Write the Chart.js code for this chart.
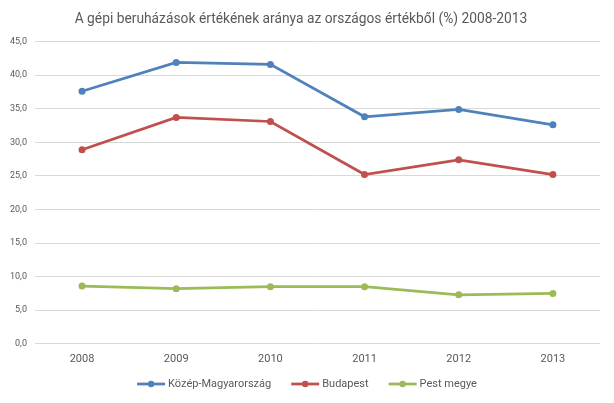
<!DOCTYPE html>
<html lang="hu">
<head>
<meta charset="UTF-8">
<title>Gépi beruházások</title>
<script src="https://cdn.jsdelivr.net/npm/chart.js"></script>
<style>
  body { margin: 0; background: #fff; }
</style>
</head>
<body>
<canvas id="chart" width="614" height="403"></canvas>
<script>
// adatok
const years = ['2008', '2009', '2010', '2011', '2012', '2013'];
const kozepMagyarorszag = [37.6, 41.9, 41.6, 33.8, 34.9, 32.6];
const budapest = [28.9, 33.7, 33.1, 25.2, 27.4, 25.2];
const pestMegye = [8.6, 8.2, 8.5, 8.5, 7.3, 7.5];

const FONT = 'Roboto, "Liberation Sans", sans-serif';

function series(label, data, color) {
    return {
        label: label,
        data: data,
        borderColor: color,
        backgroundColor: color,
        borderWidth: 2.75,
        pointRadius: 3.5,
        pointHoverRadius: 3.5,
        pointBackgroundColor: color,
        pointBorderWidth: 0,
        tension: 0,
        fill: false
    };
}

// Excel-szerű legenda: vonal + pötty, alul középen
const excelLegend = {
    id: 'excelLegend',
    afterDraw(chart) {
        const ctx = chart.ctx;
        const lineLen = 28, textGap = 3, itemGap = 20;
        const y = 384;
        ctx.save();
        ctx.font = '11px ' + FONT;
        ctx.textBaseline = 'middle';
        const items = chart.data.datasets.map(ds => ({
            ds: ds,
            w: lineLen + textGap + ctx.measureText(ds.label).width
        }));
        const total = items.reduce((s, it) => s + it.w, 0) + itemGap * (items.length - 1);
        let x = (chart.width - total) / 2;
        items.forEach(it => {
            ctx.strokeStyle = it.ds.borderColor;
            ctx.lineWidth = 2.75;
            ctx.beginPath();
            ctx.moveTo(x, y);
            ctx.lineTo(x + lineLen, y);
            ctx.stroke();
            ctx.fillStyle = it.ds.borderColor;
            ctx.beginPath();
            ctx.arc(x + lineLen / 2, y, 3.2, 0, Math.PI * 2);
            ctx.fill();
            ctx.fillStyle = '#595959';
            ctx.fillText(it.ds.label, x + lineLen + textGap, y);
            x += it.w + itemGap;
        });
        ctx.restore();
    }
};

new Chart(document.getElementById('chart'), {
    type: 'line',
    data: {
        labels: years,
        datasets: [
            series('Közép-Magyarország', kozepMagyarorszag, '#4f81bd'),
            series('Budapest', budapest, '#c0504d'),
            series('Pest megye', pestMegye, '#9bbb59')
        ]
    },
    options: {
        responsive: false,
        animation: false,
        layout: { padding: { left: 2, right: 14, top: 2, bottom: 36 } },
        plugins: {
            tooltip: { enabled: false },
            legend: { display: false },
            title: {
                display: true,
                text: 'A gépi beruházások értékének aránya az országos értékből (%) 2008-2013',
                color: '#595959',
                font: { family: FONT, size: 13.8, weight: 'normal' },
                padding: { top: 9, bottom: 14 }
            }
        },
        scales: {
            x: {
                offset: true,
                grid: { display: false },
                border: { display: false },
                ticks: {
                    color: '#595959',
                    padding: 1,
                    font: { family: FONT, size: 11 }
                }
            },
            y: {
                min: 0,
                max: 45,
                border: { display: false },
                grid: { color: '#d9d9d9', drawTicks: false },
                ticks: {
                    stepSize: 5,
                    padding: 8,
                    color: '#595959',
                    font: { family: FONT, size: 9 },
                    callback: v => v.toFixed(1).replace('.', ',')
                }
            }
        }
    },
    plugins: [excelLegend]
});
</script>
</body>
</html>
